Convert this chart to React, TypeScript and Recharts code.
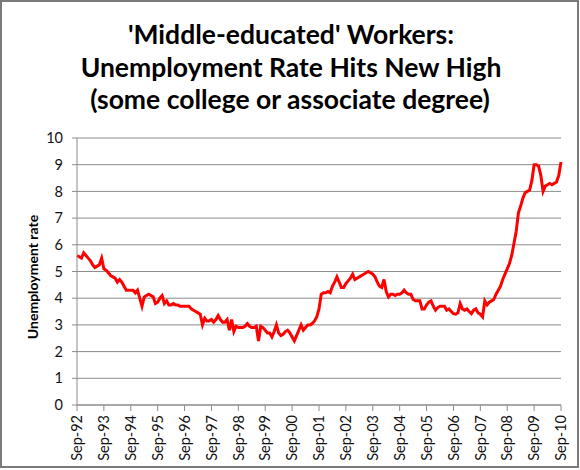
import { LineChart, Line, XAxis, YAxis, CartesianGrid } from "recharts";

// year labels for the September ticks, Sep-92 .. Sep-10
const tickYears = ["92", "93", "94", "95", "96", "97", "98", "99", "00", "01", "02", "03", "04", "05", "06", "07", "08", "09", "10"];
const monthNames = ["Sep", "Oct", "Nov", "Dec", "Jan", "Feb", "Mar", "Apr", "May", "Jun", "Jul", "Aug"];

// unemployment rate (%), each row runs Sep of one year to Aug of the next
const y1992 = [5.6, 5.55, 5.5, 5.7, 5.6, 5.5, 5.4, 5.25, 5.15, 5.2, 5.25, 5.5];
const y1993 = [5.1, 5.05, 4.95, 4.85, 4.8, 4.75, 4.6, 4.7, 4.6, 4.45, 4.3, 4.3];
const y1994 = [4.3, 4.3, 4.2, 4.3, 4.0, 3.7, 4.05, 4.1, 4.15, 4.1, 4.05, 3.8];
const y1995 = [3.85, 4.0, 4.1, 3.8, 3.9, 3.75, 3.75, 3.8, 3.75, 3.75, 3.7, 3.7];
const y1996 = [3.7, 3.7, 3.7, 3.6, 3.55, 3.5, 3.45, 3.4, 3.0, 3.25, 3.15, 3.15];
const y1997 = [3.2, 3.1, 3.2, 3.35, 3.2, 3.1, 3.1, 3.2, 2.8, 3.2, 2.75, 2.95];
const y1998 = [2.9, 2.9, 2.9, 2.95, 3.05, 2.95, 2.9, 2.9, 2.95, 2.4, 2.95, 2.9];
const y1999 = [2.8, 2.7, 2.7, 2.55, 2.75, 3.0, 2.7, 2.6, 2.65, 2.75, 2.8, 2.7];
const y2000 = [2.55, 2.4, 2.6, 2.8, 3.0, 2.8, 2.9, 3.0, 3.0, 3.05, 3.15, 3.3];
const y2001 = [3.6, 4.15, 4.2, 4.2, 4.25, 4.2, 4.45, 4.6, 4.8, 4.6, 4.4, 4.4];
const y2002 = [4.55, 4.65, 4.75, 4.9, 4.7, 4.75, 4.8, 4.85, 4.9, 4.95, 5.0, 4.95];
const y2003 = [4.9, 4.8, 4.6, 4.45, 4.4, 4.7, 4.25, 4.05, 4.15, 4.15, 4.1, 4.15];
const y2004 = [4.15, 4.2, 4.3, 4.2, 4.15, 4.15, 3.95, 3.9, 3.9, 3.9, 3.6, 3.6];
const y2005 = [3.75, 3.85, 3.9, 3.7, 3.55, 3.65, 3.7, 3.7, 3.7, 3.55, 3.6, 3.5];
const y2006 = [3.42, 3.4, 3.45, 3.8, 3.6, 3.55, 3.6, 3.5, 3.42, 3.55, 3.6, 3.45];
const y2007 = [3.4, 3.3, 3.9, 3.75, 3.85, 3.9, 3.95, 4.15, 4.3, 4.45, 4.7, 4.9];
const y2008 = [5.1, 5.3, 5.6, 6.05, 6.5, 7.2, 7.45, 7.75, 7.95, 8.0, 8.05, 8.4];
const y2009 = [9.0, 9.0, 8.95, 8.6, 8.0, 8.2, 8.25, 8.3, 8.25, 8.3, 8.35, 8.6];
const sep2010 = 9.1;

const yearly = [y1992, y1993, y1994, y1995, y1996, y1997, y1998, y1999, y2000, y2001, y2002, y2003, y2004, y2005, y2006, y2007, y2008, y2009];

const data: { month: string; rate: number }[] = [];
yearly.forEach((vals, i) => {
  vals.forEach((v, m) => {
    const yy = m < 4 ? tickYears[i] : tickYears[i + 1];
    data.push({ month: `${monthNames[m]}-${yy}`, rate: v });
  });
});
data.push({ month: `Sep-${tickYears[18]}`, rate: sep2010 });

const FONT = "Lato, 'DejaVu Sans', sans-serif";

function XTick(props: any) {
  const { x, y, payload } = props;
  return (
    <g transform={`translate(${x},${y})`}>
      <text transform="rotate(-90)" textAnchor="end" dy="0.36em" fontSize={14.5} fill="#111" fontFamily={FONT}>
        {payload.value}
      </text>
    </g>
  );
}

export default function App() {
  return (
    <div style={{ position: "absolute", left: 0, top: 0, width: 580, height: 470, background: "#fff", fontFamily: FONT }}>
      <svg width={580} height={470} style={{ position: "absolute", left: 0, top: 0 }}>
        <rect x={1} y={1} width={577} height={466} fill="none" stroke="#7a7a7a" strokeWidth={2} />
        <g fontFamily={FONT} fontWeight={700} fontSize={26.5} fill="#000" textAnchor="middle">
          <text x={291} y={44}>'Middle-educated' Workers:</text>
          <text x={291} y={76.5}>Unemployment Rate Hits New High</text>
          <text x={290} y={109}>(some college or associate degree)</text>
        </g>
      </svg>
      <div style={{ position: "absolute", left: 0, top: 0 }}>
        <LineChart width={580} height={470} data={data} margin={{ top: 138, right: 19, bottom: 5, left: 17 }}>
          <CartesianGrid vertical={false} stroke="#8c8c8c" />
          <XAxis
            dataKey="month"
            interval={11}
            height={60}
            tick={<XTick />}
            tickSize={6}
            tickMargin={4}
            axisLine={{ stroke: "#8c8c8c" }}
            tickLine={{ stroke: "#8c8c8c" }}
          />
          <YAxis
            domain={[0, 10]}
            ticks={[0, 1, 2, 3, 4, 5, 6, 7, 8, 9, 10]}
            width={60}
            tickSize={5}
            tickMargin={9}
            tick={{ fontSize: 14.5, fill: "#111", fontFamily: FONT }}
            axisLine={{ stroke: "#8c8c8c" }}
            tickLine={{ stroke: "#8c8c8c" }}
            label={{
              content: () => (
                <text x={33} y={277} transform="rotate(-90, 33, 277)" textAnchor="middle" dy="0.36em" fontSize={14} fontWeight={700} fill="#000" fontFamily={FONT}>
                  Unemployment rate
                </text>
              ),
            }}
          />
          <Line type="linear" dataKey="rate" stroke="#ff0000" strokeWidth={3} dot={false} isAnimationActive={false} />
        </LineChart>
      </div>
    </div>
  );
}
